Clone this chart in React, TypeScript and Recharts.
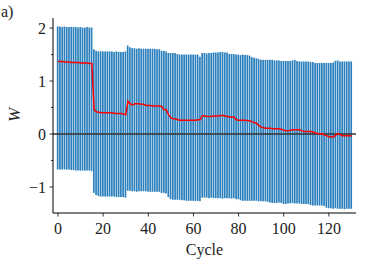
import { ComposedChart, Bar, Line, XAxis, YAxis, ReferenceLine } from 'recharts';

// Upper / lower ends of the spread for every cycle (0..130)
const highValues = [
  2.03, 2.03, 2.02, 2.03, 2.02, 2.02, 2.02, 2.02, 2.02, 2.01, 2.02, 2.01, 2.01, 2.02, 2.01, 2.01,
  1.6,
  1.57, 1.56, 1.56, 1.56, 1.56, 1.56, 1.56, 1.56, 1.55, 1.56, 1.55, 1.55, 1.55, 1.56,
  1.67, 1.64,
  1.62, 1.62, 1.61, 1.62, 1.61, 1.61, 1.61, 1.61, 1.61, 1.61, 1.61, 1.6, 1.6,
  1.57, 1.57, 1.56,
  1.53, 1.53, 1.53, 1.53,
  1.51, 1.5, 1.5, 1.5, 1.5, 1.5, 1.5, 1.5, 1.5, 1.5,
  1.46,
  1.53, 1.53, 1.52, 1.53, 1.53,
  1.54, 1.54, 1.54, 1.55, 1.55, 1.54, 1.54,
  1.51, 1.51, 1.51,
  1.5, 1.5, 1.49, 1.5, 1.49, 1.49, 1.48,
  1.45, 1.44, 1.43, 1.42,
  1.4, 1.4, 1.4, 1.4, 1.4, 1.4, 1.39, 1.39, 1.39,
  1.38, 1.38, 1.38, 1.38, 1.38, 1.39,
  1.4,
  1.38, 1.37, 1.37, 1.37, 1.37, 1.37, 1.36, 1.36,
  1.34, 1.34, 1.34, 1.34, 1.34, 1.34, 1.34, 1.34, 1.35,
  1.38, 1.39,
  1.37, 1.37, 1.37, 1.37, 1.37, 1.37,
];

const lowValues = [
  -0.67, -0.67, -0.67, -0.67, -0.67, -0.67,
  -0.68, -0.68, -0.69, -0.69, -0.69, -0.69, -0.69, -0.69, -0.69, -0.7,
  -1.11, -1.15,
  -1.17, -1.18, -1.18, -1.18, -1.18, -1.18, -1.18, -1.18, -1.19, -1.19, -1.19, -1.19, -1.2,
  -1.07, -1.07,
  -1.08, -1.08, -1.09, -1.08, -1.08, -1.08, -1.08, -1.09, -1.09, -1.09, -1.09, -1.09, -1.09,
  -1.11, -1.11, -1.12,
  -1.19,
  -1.23, -1.24, -1.24, -1.24, -1.24, -1.25, -1.25,
  -1.26, -1.26, -1.26, -1.26, -1.26, -1.26, -1.27,
  -1.2, -1.2, -1.2, -1.21, -1.2,
  -1.21, -1.21, -1.21, -1.21, -1.22, -1.21, -1.21, -1.21, -1.22, -1.21,
  -1.23, -1.23,
  -1.25, -1.26, -1.26, -1.26, -1.26, -1.26, -1.26, -1.26, -1.27,
  -1.27, -1.27, -1.27, -1.28,
  -1.29, -1.3, -1.3, -1.3, -1.29, -1.3,
  -1.32, -1.32, -1.31,
  -1.31, -1.3, -1.31, -1.31, -1.31, -1.32, -1.32, -1.32, -1.32,
  -1.34, -1.35, -1.35, -1.35, -1.35, -1.35, -1.36,
  -1.39, -1.4, -1.4, -1.41, -1.4,
  -1.41, -1.41, -1.41, -1.42, -1.41, -1.41, -1.41,
];

// Median W per cycle
const medianValues = [
  1.37, 1.37, 1.37, 1.36, 1.36, 1.36, 1.35, 1.35, 1.35, 1.35, 1.34, 1.34, 1.34, 1.34, 1.33, 1.33,
  0.46, 0.42, 0.41,
  0.4, 0.4, 0.4, 0.4, 0.4, 0.4, 0.39, 0.39, 0.39, 0.39, 0.38,
  0.36,
  0.62, 0.57, 0.55,
  0.57, 0.57, 0.57, 0.56, 0.56,
  0.54, 0.54, 0.54, 0.53, 0.53, 0.53, 0.53,
  0.52, 0.46, 0.46,
  0.36, 0.31,
  0.29, 0.29,
  0.27,
  0.26, 0.26, 0.26, 0.26, 0.26, 0.26, 0.26, 0.26, 0.27, 0.27,
  0.35, 0.34,
  0.33, 0.33, 0.33, 0.34, 0.34, 0.34,
  0.35, 0.35,
  0.34, 0.33,
  0.32, 0.32, 0.32,
  0.27, 0.26, 0.26, 0.26, 0.26, 0.25,
  0.25, 0.23, 0.22, 0.2,
  0.16, 0.13,
  0.12, 0.11, 0.11, 0.11,
  0.1, 0.1, 0.1, 0.1, 0.09,
  0.07, 0.06, 0.06, 0.07,
  0.08, 0.08, 0.08, 0.08,
  0.06, 0.05, 0.05, 0.05, 0.05, 0.04,
  0.02, 0.01, 0.0, 0.01,
  -0.02, -0.03,
  -0.05, -0.05, -0.06,
  -0.02, 0.01, -0.01,
  -0.03, -0.03, -0.03, -0.03, -0.03,
];

const xTicks = [0, 20, 40, 60, 80, 100, 120];
const yTicks = [-1, -0.5, 0, 0.5, 1, 1.5, 2];
const yTickLabels: Record<string, string> = { '-1': '\u22121', '0': '0', '1': '1', '2': '2' };

const data = medianValues.map((m, i) => ({
  cycle: i,
  range: [lowValues[i], highValues[i]],
  median: m,
}));

const FONT = '"Liberation Serif", "DejaVu Serif", serif';
const PLOT_LEFT = 53;
const PLOT_BOTTOM = 213;

const XTick = (props: any) => {
  const { x, payload } = props;
  return (
    <g>
      <line x1={x} x2={x} y1={PLOT_BOTTOM} y2={PLOT_BOTTOM + 3.5} stroke="#000" strokeWidth={0.8} />
      <text x={x} y={234} textAnchor="middle" fontSize={16} fontFamily={FONT} fill="#222">
        {payload.value}
      </text>
    </g>
  );
};

const YTick = (props: any) => {
  const { y, payload } = props;
  const label = yTickLabels[String(payload.value)];
  const major = label !== undefined;
  return (
    <g>
      <line x1={PLOT_LEFT - (major ? 3.5 : 2)} x2={PLOT_LEFT} y1={y} y2={y} stroke="#000" strokeWidth={0.8} />
      {major && (
        <text x={46} y={y + 5.5} textAnchor="end" fontSize={16} fontFamily={FONT} fill="#222">
          {label}
        </text>
      )}
    </g>
  );
};

const YLabel = () => (
  <text x={20} y={115} transform="rotate(-90 20 115)" textAnchor="middle" fontSize={17} fontStyle="italic" fontFamily={FONT} fill="#222">
    W
  </text>
);

export default function App() {
  return (
    <div style={{ position: 'absolute', left: 0, top: 0, width: 382, height: 266, background: '#fff' }}>
      <ComposedChart width={382} height={266} data={data} margin={{ top: 18, right: 26, bottom: 0, left: 0 }}>
        <XAxis
          dataKey="cycle"
          type="number"
          domain={[-2.2, 132]}
          ticks={xTicks}
          interval={0}
          height={53}
          tickLine={false}
          tick={<XTick />}
          axisLine={{ stroke: '#000', strokeWidth: 1 }}
          allowDataOverflow
          label={{ value: 'Cycle', position: 'insideBottom', offset: 11, fontSize: 16, fontFamily: FONT, fill: '#222' }}
        />
        <XAxis xAxisId="top" orientation="top" dataKey="cycle" type="number" domain={[-2.2, 132]} height={0} tick={false} tickLine={false} axisLine={{ stroke: '#000', strokeWidth: 1 }} />
        <YAxis
          type="number"
          domain={[-1.49, 2.19]}
          ticks={yTicks}
          interval={0}
          width={53}
          tickLine={false}
          tick={<YTick />}
          axisLine={{ stroke: '#000', strokeWidth: 1 }}
          allowDataOverflow
          label={<YLabel />}
        />
        <YAxis yAxisId="right" orientation="right" domain={[-1.49, 2.19]} width={0} tick={false} tickLine={false} axisLine={{ stroke: '#000', strokeWidth: 1 }} />
        <Bar dataKey="range" fill="#2a7fbc" barSize={1.7} isAnimationActive={false} />
        <ReferenceLine y={0} stroke="#333" strokeWidth={1.5} />
        <Line dataKey="median" stroke="#ff0000" strokeWidth={1.5} dot={false} type="linear" isAnimationActive={false} />
      </ComposedChart>
      <div style={{ position: 'absolute', left: 1, top: 3, fontFamily: FONT, fontSize: 16, color: '#222' }}>a)</div>
    </div>
  );
}
